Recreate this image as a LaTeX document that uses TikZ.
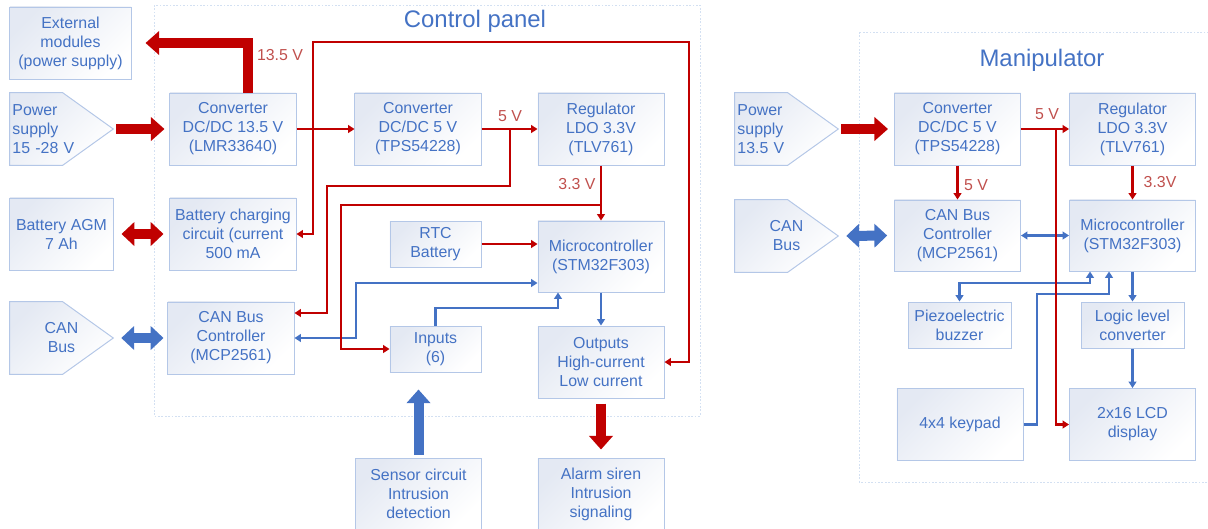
\documentclass[tikz,border=0pt]{standalone}
\usepackage{fontspec}
\setmainfont{Liberation Sans}
\usetikzlibrary{arrows.meta,calc}
\pgfdeclarelayer{tlo}
\pgfsetlayers{tlo,main}

\definecolor{tekst}{HTML}{4472C4}
\definecolor{ramka}{HTML}{B4C7E7}
\definecolor{cien}{HTML}{E4E9F3}
\definecolor{czerw}{HTML}{C00000}
\definecolor{etyk}{HTML}{C0504D}
\definecolor{niebo}{HTML}{4472C4}
\definecolor{obszar}{HTML}{D3E0F2}

\begin{document}
\begin{tikzpicture}[x=0.025cm, y=-0.025cm,
    every node/.style={font=\fontsize{11.3}{13.5}\selectfont, text=tekst, align=center, inner sep=1pt},
    blok/.style={draw=ramka, line width=0.7pt, top color=cien, bottom color=white, shading angle=45,
      minimum width=3.15cm, minimum height=1.8cm},
    blokm/.style={blok, minimum width=2.575cm, minimum height=1.15cm},
    wejscie/.style={minimum width=2.575cm, minimum height=1.8cm},
    wejrys/.style={draw=ramka, line width=0.7pt, top color=cien, bottom color=white, shading angle=45},
    etykieta/.style={text=etyk},
    tytul/.style={font=\fontsize{17}{20}\selectfont},
    obrys/.style={draw=obszar, line width=0.6pt, dash pattern=on 1.2pt off 1.2pt},
    cienka/.style={line width=1.9pt, -{Triangle[width=5.5pt,length=4.5pt]}},
    cienka2/.style={line width=1.9pt, {Triangle[width=5.5pt,length=4.5pt]}-{Triangle[width=5.5pt,length=4.5pt]}},
    gruba/.style={line width=0.25cm, -{Triangle[width=0.58cm,length=0.34cm]}},
    gruba2/.style={line width=0.25cm, {Triangle[width=0.58cm,length=0.32cm]}-{Triangle[width=0.58cm,length=0.32cm]}}]
  \useasboundingbox (0,0) rectangle (1208,528);

  % Obszary
  \draw[obrys] (154,5) rectangle (700,416);
  \draw[obrys] (859,32) rectangle (1215,482);
  \node[tytul] (tcp) at (475,21) {Control panel};
  \node[tytul] (tman) at (1042,60) {Manipulator};

  % Centrala - bloki
  \node[blok, minimum width=3.025cm] (ext) at (70.5,43) {External\\modules\\(power supply)};
  \node[wejscie, text width=2.45cm, align=left] (pwr) at (61.5,129) {Power\\supply\\15 -28 V};
  \node[blok] (conv13) at (233,129) {Converter\\DC/DC 13.5 V\\(LMR33640)};
  \node[blok, minimum width=2.575cm] (agm) at (61.5,234) {Battery AGM\\7 Ah};
  \node[blok] (chg) at (233,234) {Battery charging\\circuit (current\\500 mA};
  \node[wejscie] (can) at (61.5,338) {CAN\\Bus};
  \node[blok] (canc) at (231,338) {CAN Bus\\Controller\\(MCP2561)};
  \node[blok] (conv5) at (418,129) {Converter\\DC/DC 5 V\\(TPS54228)};
  \node[blok] (reg) at (601,129) {Regulator\\LDO 3.3V\\(TLV761)};
  \node[blokm, minimum width=2.275cm] (rtc) at (435.5,244) {RTC\\Battery};
  \node[blok, minimum height=1.775cm] (mcu) at (601,256.5) {Microcontroller\\(STM32F303)};
  \node[blokm, minimum width=2.275cm] (inp) at (435.5,349) {Inputs\\(6)};
  \node[blok] (outp) at (601,362) {Outputs\\High-current\\Low current};
  \node[blok] (sens) at (418.5,494) {Sensor circuit\\Intrusion\\detection};
  \node[blok] (alarm) at (601,494) {Alarm siren\\Intrusion\\signaling};

  % Centrala - sygnaly
  \coordinate (c1) at (356,283);
  \coordinate (c2) at (558,308);
  \draw[cienka2, niebo] (canc.east) -| (c1) -- (c1 -| mcu.west);
  \draw[cienka, niebo] (inp.north) |- (c2) -- (c2 |- mcu.south);
  \draw[cienka, niebo] (mcu.south) -- (outp.north);

  % Centrala - zasilanie
  \draw[gruba, czerw, shorten >=0.35cm] ([xshift=0.375cm]conv13.north) |- (ext.east);
  \draw[gruba, czerw, shorten <=0.075cm, shorten >=0.125cm] (pwr.east) -- (conv13.west);
  \draw[gruba2, czerw, shorten <=0.2cm, shorten >=0.15cm] (agm.east) -- (chg.west);
  \draw[gruba2, niebo, shorten <=0.2cm, shorten >=0.1cm] (can.east) -- (canc.west);
  \draw[gruba, niebo, shorten <=0.075cm, shorten >=0.425cm] (sens.north) -- (sens.north |- inp.south);
  \draw[gruba, czerw, shorten <=0.125cm, shorten >=0.2cm] (outp.south) -- (alarm.north);

  \coordinate (b1) at (313,42);
  \coordinate (b2) at (689,362);
  \coordinate (j5) at (510,129);
  \coordinate (k5) at (327,313);
  \coordinate (j33) at (601,205);
  \coordinate (k33) at (341,349);
  \draw[cienka, czerw] (conv13.east) -- (conv5.west);
  \draw[cienka2, czerw] (chg.east) -| (b1) -| (b2) -- (outp.east);
  \draw[cienka, czerw] (conv5.east) -- (reg.west);
  \draw[cienka, czerw] (j5) |- (327,186) -- (k5) -- (k5 -| canc.east);
  \draw[cienka, czerw] (reg.south) -- (mcu.north);
  \draw[cienka, czerw] (j33) -| (k33) -- (inp.west);
  \draw[cienka, czerw] (rtc.east) -- (rtc.east -| mcu.west);
  \node[etykieta] (l135) at (280,55) {13.5 V};
  \node[etykieta] (l5) at (510,116) {5 V};
  \node[etykieta] (l33) at (577,184) {3.3 V};

  % Manipulator - bloki
  \node[wejscie, text width=2.45cm, align=left] (mpwr) at (786.5,129) {Power\\supply\\13.5 V};
  \node[wejscie] (mcan) at (786.5,236) {CAN\\Bus};
  \node[blok] (mconv) at (957.5,129) {Converter\\DC/DC 5 V\\(TPS54228)};
  \node[blok] (mreg) at (1132.5,129) {Regulator\\LDO 3.3V\\(TLV761)};
  \node[blok, minimum height=1.775cm] (mcanc) at (957.5,235.5) {CAN Bus\\Controller\\(MCP2561)};
  \node[blok, minimum height=1.775cm] (mmcu) at (1132.5,235.5) {Microcontroller\\(STM32F303)};
  \node[blokm] (buzz) at (959.5,325) {Piezoelectric\\buzzer};
  \node[blokm] (logic) at (1132.5,325) {Logic level\\converter};
  \node[blok] (keys) at (960,424.5) {4x4 keypad};
  \node[blok] (lcd) at (1132.5,424.5) {2x16 LCD\\display};

  % Wejscia (piecioboki)
  \begin{pgfonlayer}{tlo}
    \foreach \w in {pwr,can,mpwr,mcan}
      \shadedraw[wejrys] (\w.south west) -- (\w.north west) -- ($(\w.north west)+(53,0)$)
        -- (\w.east) -- ($(\w.south west)+(53,0)$) -- cycle;
  \end{pgfonlayer}

  % Manipulator - polaczenia
  \draw[gruba, czerw, shorten <=0.075cm, shorten >=0.15cm] (mpwr.east) -- (mconv.west);
  \draw[gruba2, niebo, shorten <=0.2cm, shorten >=0.17cm] (mcan.east) -- (mcanc.west);
  \coordinate (m1) at (1090,283);
  \coordinate (m2) at (1037,294);
  \coordinate (m3) at (1109,294);
  \coordinate (j5m) at (1056,129);
  \draw[cienka2, niebo] (mcanc.east) -- (mmcu.west);
  \draw[cienka2, niebo] (m1 |- mmcu.south) -- (m1) -| (buzz.north);
  \draw[cienka, niebo] (keys.east) -| (m2) -- (m3) -- (m3 |- mmcu.south);
  \draw[cienka, niebo] (mmcu.south) -- (logic.north);
  \draw[cienka, niebo] (logic.south) -- (lcd.north);
  \draw[cienka, czerw] (mconv.east) -- (mreg.west);
  \draw[cienka, czerw] (j5m) |- (lcd.west);
  \draw[cienka, czerw] (mconv.south) -- (mcanc.north);
  \draw[cienka, czerw] (mreg.south) -- (mmcu.north);
  \node[etykieta] (ml5) at (1047,114) {5 V};
  \node[etykieta] (ml5b) at (976,185) {5 V};
  \node[etykieta] (ml33) at (1160,182) {3.3V};
\end{tikzpicture}
\end{document}
